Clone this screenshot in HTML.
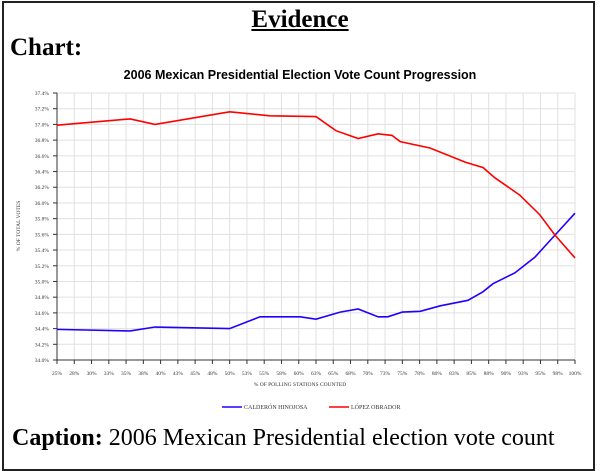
<!DOCTYPE html>
<html><head><meta charset="utf-8"><style>
body{margin:0;width:600px;height:444px;overflow:hidden;background:#fff;font-family:"Liberation Serif",serif}
#frame{position:absolute;left:2px;top:1px;width:593px;height:470px;border:2px solid #222;box-sizing:border-box}
.t{position:absolute;white-space:nowrap}
</style></head><body>
<div id="frame"></div>
<div class="t" style="left:0;width:600px;text-align:center;top:6px;font-size:25px;font-weight:bold;text-decoration:underline">Evidence</div>
<div class="t" style="left:10px;top:34px;font-size:25px;font-weight:bold">Chart:</div>
<svg id="c" width="600" height="444" style="position:absolute;left:0;top:0"></svg>
<div class="t" style="left:12px;top:425px;font-size:24px"><b>Caption:</b> 2006 Mexican Presidential election vote count</div>
<script>
const xTicks=["25%","28%","30%","33%","35%","38%","40%","43%","45%","48%","50%","53%","55%","58%","60%","63%","65%","68%","70%","73%","75%","78%","80%","83%","85%","88%","90%","93%","95%","98%","100%"];
const yTicks=[34.0,34.2,34.4,34.6,34.8,35.0,35.2,35.4,35.6,35.8,36.0,36.2,36.4,36.6,36.8,37.0,37.2,37.4];
const redX=[25,35.6,39.2,50.0,55.8,62.5,65.4,68.6,71.5,73.5,74.7,79.0,84.1,86.7,88.4,92.0,94.9,97.1,100];
const redY=[36.99,37.07,37.0,37.16,37.11,37.10,36.92,36.82,36.88,36.86,36.78,36.70,36.52,36.45,36.32,36.10,35.85,35.59,35.30];
const blueX=[25,35.6,39.2,50.0,54.4,60.2,62.5,66.0,68.6,71.5,72.9,75.0,77.6,80.5,84.5,86.7,88.1,91.3,94.2,97.1,100];
const blueY=[34.39,34.37,34.42,34.40,34.55,34.55,34.52,34.61,34.65,34.55,34.55,34.61,34.62,34.69,34.76,34.87,34.97,35.11,35.31,35.59,35.87];
const L=57,R=575,T=93,B=360;
const xs=p=>L+(p-25)/75*(R-L), ys=v=>B-(v-34)/3.4*(B-T);
const s=document.getElementById('c'),NS="http://www.w3.org/2000/svg";
function mk(t,a,txt){const e=document.createElementNS(NS,t);for(const k in a)e.setAttribute(k,a[k]);if(txt!=null)e.textContent=txt;s.appendChild(e);return e;}
let e=mk('text',{x:300,y:79,'text-anchor':'middle','font-family':'Liberation Sans,sans-serif','font-size':12.5,'font-weight':'bold'},'2006 Mexican Presidential Election Vote Count Progression');

yTicks.forEach(v=>{const y=ys(v);
 let g=mk('line',{x1:L,x2:R,y1:y,y2:y,stroke:'#e0e0e0'});
 mk('line',{x1:L-4,x2:L,y1:y,y2:y,stroke:'#333'});
 let t=mk('text',{x:L-8,y:y+2,'text-anchor':'end','font-size':5.5,fill:'#333'},v.toFixed(1)+'%');
 });
xTicks.forEach((lab,i)=>{const x=L+i*(R-L)/(xTicks.length-1);
 let g=mk('line',{x1:x,x2:x,y1:T,y2:B,stroke:'#e0e0e0'});
 mk('line',{x1:x,x2:x,y1:B,y2:B+4,stroke:'#333'});
 let t=mk('text',{x:x,y:B+15,'text-anchor':'middle','font-size':5.5,fill:'#333'},lab);
 });
mk('line',{x1:L,x2:L,y1:T,y2:B,stroke:'#333'});mk('line',{x1:L,x2:R,y1:B,y2:B,stroke:'#333'});
e=mk('text',{x:300,y:386,'text-anchor':'middle','font-size':5.5,fill:'#333'},'% OF POLLING STATIONS COUNTED');
e=mk('text',{x:0,y:0,'text-anchor':'middle','font-size':5.5,fill:'#333',transform:'translate(20,226) rotate(-90)'},'% OF TOTAL VOTES');
function line(X,Y,c,n){e=mk('polyline',{points:X.map((p,i)=>xs(p)+','+ys(Y[i])).join(' '),fill:'none',stroke:c,'stroke-width':1.6});}
line(blueX,blueY,'#2200ff','series-calderon');
line(redX,redY,'#ff0000','series-lopez');
e=mk('line',{x1:222,x2:242,y1:407,y2:407,stroke:'#2200ff','stroke-width':1.5});
e=mk('text',{x:244,y:409,'font-size':6,fill:'#333'},'CALDERÓN HINOJOSA');
e=mk('line',{x1:329,x2:349,y1:407,y2:407,stroke:'#ff0000','stroke-width':1.5});
e=mk('text',{x:351,y:409,'font-size':6,fill:'#333'},'LÓPEZ OBRADOR');
</script>
</body></html>
